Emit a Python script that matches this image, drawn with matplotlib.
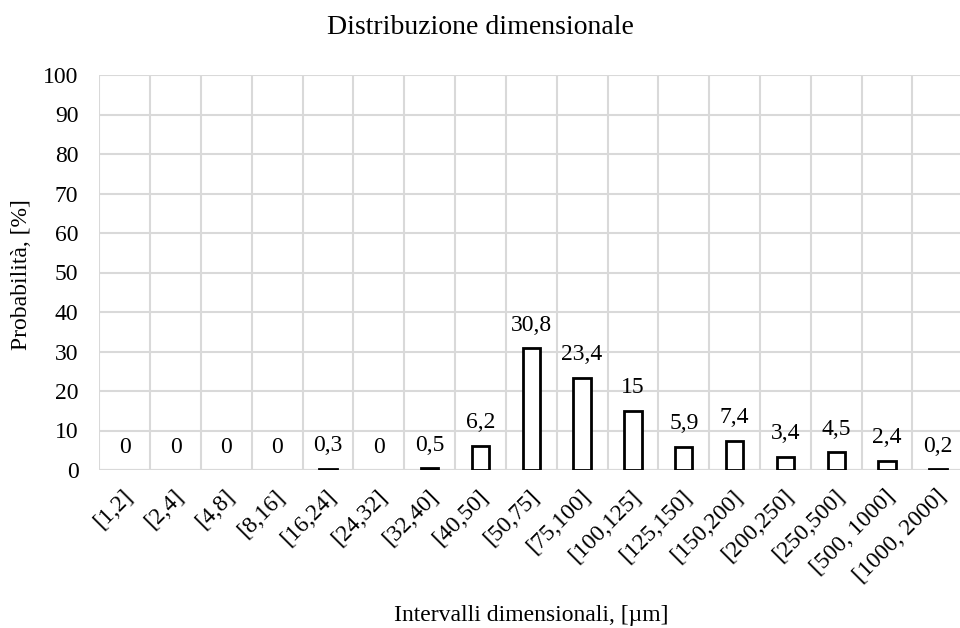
import matplotlib
matplotlib.use('Agg')
import matplotlib.pyplot as plt
import matplotlib.transforms as mtransforms
import numpy as np

plt.rcParams['font.family'] = ['Liberation Serif', 'DejaVu Serif']

labels = ['[1,2]', '[2,4]', '[4,8]', '[8,16]', '[16,24]', '[24,32]', '[32,40]',
          '[40,50]', '[50,75]', '[75,100]', '[100,125]', '[125,150]', '[150,200]',
          '[200,250]', '[250,500]', '[500, 1000]', '[1000, 2000]']
values = [0, 0, 0, 0, 0.3, 0, 0.5, 6.2, 30.8, 23.4, 15, 5.9, 7.4, 3.4, 4.5, 2.4, 0.2]

x = np.arange(len(labels))

fig = plt.figure(figsize=(9.6, 6.28), dpi=100)
# plot area runs slightly past the right edge, as in the original
ax = fig.add_axes([99.3/960, 1 - 470/628, 864/960, 395/628])

bars = ax.bar(x, values, 0.34, color='white', edgecolor='black', linewidth=2, zorder=3)
for rect, v in zip(bars, values):
    if v == 0:
        rect.set_edgecolor('none')

ax.set_xlim(-0.5, len(labels) - 0.5)
ax.set_ylim(0, 100)
ax.set_yticks(np.arange(0, 101, 10))
ax.set_xticks(np.arange(-0.5, len(labels), 1), minor=True)
ax.set_xticks(x)
ax.set_xticklabels(labels, rotation=45, ha='right', va='center',
                   rotation_mode='anchor', fontsize=17)
ax.tick_params(axis='y', labelsize=17, length=0, pad=15)
ax.tick_params(axis='x', which='both', length=0, pad=17)

# nudge the rotated labels a little to the right
shift = mtransforms.ScaledTranslation(5/100, 0, fig.dpi_scale_trans)
for lab in ax.get_xticklabels():
    lab.set_transform(lab.get_transform() + shift)

ax.grid(True, which='major', axis='y', color='#d9d9d9', linewidth=1.5, zorder=0)
ax.grid(True, which='minor', axis='x', color='#d9d9d9', linewidth=1.5, zorder=0)
for s in ax.spines.values():
    s.set_visible(False)
ax.axhline(0, color='#d9d9d9', linewidth=1.5, zorder=1)

for rect, v in zip(bars, values):
    ax.annotate('{}'.format(v).replace('.', ','),
                xy=(rect.get_x() + rect.get_width() / 2, rect.get_height()),
                xytext=(0, 16.5), textcoords='offset points',
                ha='center', va='center', fontsize=17)

fig.text(0.5, 1 - 28/628, 'Distribuzione dimensionale', ha='center', va='center', fontsize=20)
fig.text(531/960, 1 - 615/628, 'Intervalli dimensionali, [µm]', ha='center', va='center', fontsize=17)
fig.text(22/960, 1 - 275/628, 'Probabilità, [%]', ha='center', va='center',
         rotation=90, fontsize=17)

fig.savefig('out.png', dpi=100)
